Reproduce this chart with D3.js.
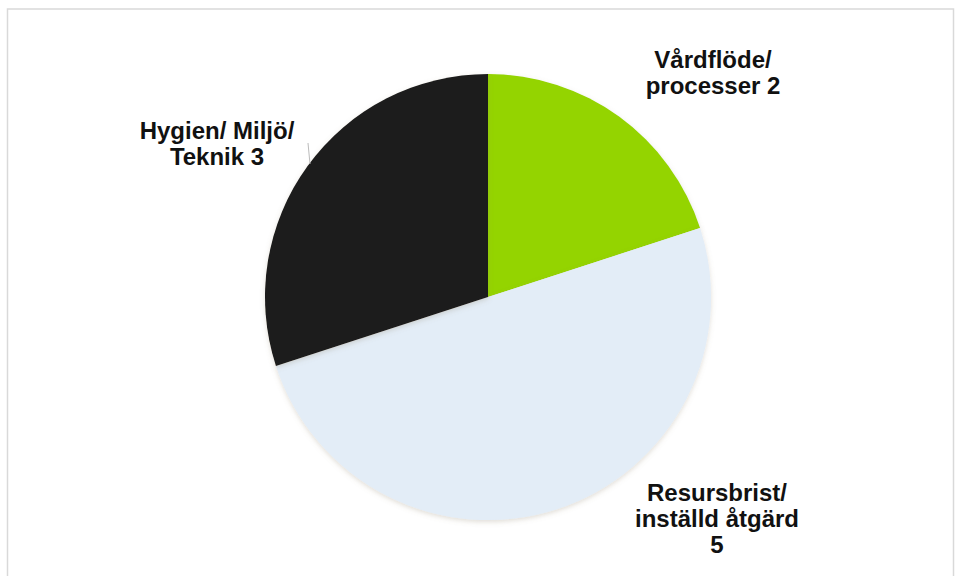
<!DOCTYPE html>
<html>
<head>
<meta charset="utf-8">
<script src="https://d3js.org/d3.v7.min.js"></script>
<style>
  body { margin: 0; background: #fff; }
  svg { display: block; }
</style>
</head>
<body>
<div id="chart"></div>
<script>
// data
var categories = ['Vårdflöde/ processer', 'Resursbrist/ inställd åtgärd', 'Hygien/ Miljö/ Teknik'];
var values = [2, 5, 3];
var labelLines = [
    ['Vårdflöde/', 'processer 2'],
    ['Resursbrist/', 'inställd åtgärd', '5'],
    ['Hygien/ Miljö/', 'Teknik 3']
];
var colors = ['#94d400', '#e3edf7', '#1b1b1d'];

draw_pie();
function draw_pie(){
    var width = 955, height = 576;
    var cx = 488, cy = 297, radius = 223;
    // label block centres, relative to the pie centre (first baseline)
    var labelOffset = [[225, -229], [229, 204], [-271, -158]];
    var lineHeight = 26;

    var svg = d3.select('#chart')
      .append('svg')
      .attr('width', width)
      .attr('height', height);

    var defs = svg.append('defs');
    defs.append('filter')
        .attr('id', 'shadow')
        .attr('x', '-10%').attr('y', '-10%')
        .attr('width', '120%').attr('height', '120%')
      .append('feDropShadow')
        .attr('dx', 0).attr('dy', 2)
        .attr('stdDeviation', 2.5)
        .attr('flood-color', '#8a7a60')
        .attr('flood-opacity', 0.25);

    // frame
    svg.append('rect')
        .attr('x', 7.5).attr('y', 9)
        .attr('width', 946).attr('height', 620)
        .attr('fill', '#fff')
        .attr('stroke', '#d9d9d9')
        .attr('stroke-width', 1.5);

    var color = d3.scaleOrdinal()
                .domain(categories)
                .range(colors);

    var pie = d3.pie().sort(null).value(function(d, i){ return values[i]; });
    var arc = d3.arc().innerRadius(0).outerRadius(radius);

    var g = svg.append('g')
      .attr('transform', 'translate(' + cx + ',' + cy + ')');

    g.selectAll('path.slice')
      .data(pie(categories))
      .enter()
      .append('path')
      .attr('class', 'slice')
      .attr('d', arc)
      .attr('fill', function(d){ return color(d.data); })
      .attr('filter', 'url(#shadow)');

    // small leader line next to the black slice label
    g.append('line')
      .attr('x1', -180).attr('y1', -154)
      .attr('x2', -178).attr('y2', -133)
      .attr('stroke', '#bbb')
      .attr('stroke-width', 1);

    var labels = g.selectAll('text.label')
      .data(categories)
      .enter()
      .append('text')
      .attr('class', 'label')
      .attr('text-anchor', 'middle')
      .attr('font-family', '"Liberation Sans", Arial, sans-serif')
      .attr('font-weight', 'bold')
      .attr('font-size', 24)
      .attr('fill', '#111')
      .attr('transform', function(d, i){ return 'translate(' + labelOffset[i][0] + ',' + labelOffset[i][1] + ')'; });

    labels.each(function(d, i){
        var t = d3.select(this);
        labelLines[i].forEach(function(line, j){
            t.append('tspan')
              .attr('x', 0)
              .attr('y', j * lineHeight)
              .text(line);
        });
    });
}
</script>
</body>
</html>
